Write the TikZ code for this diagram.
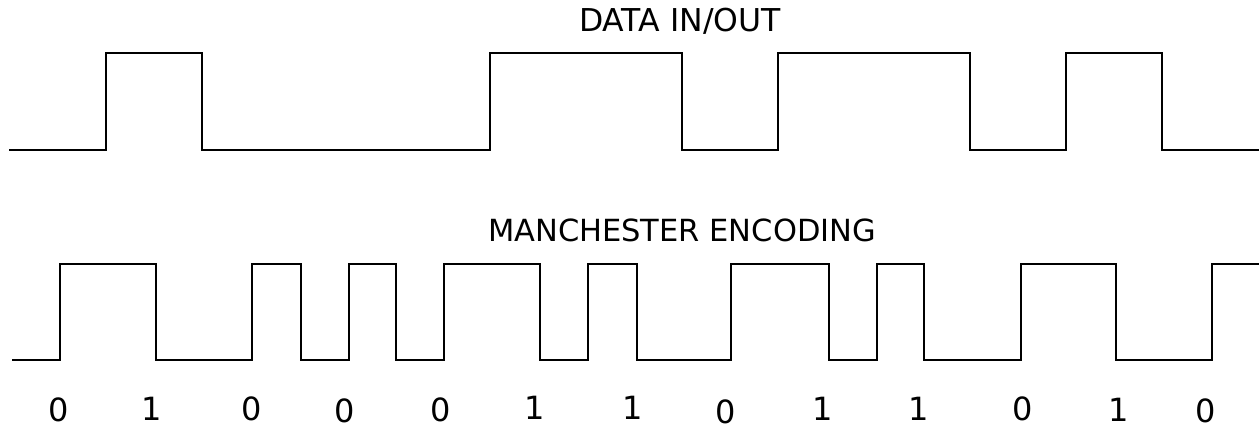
\documentclass[tikz,border=0pt]{standalone}
\usepackage{fontspec}
\setmainfont{DejaVu Sans}
\begin{document}
\begin{tikzpicture}[x=1pt,y=-1pt,
  wave/.style={line width=2.2pt,line join=miter,black},
  title/.style={inner sep=0pt,anchor=center,font=\fontsize{30.5}{31}\selectfont},
  bit/.style={inner sep=0pt,anchor=center,font=\fontsize{32}{32}\selectfont}]
\useasboundingbox (0,0) rectangle (1259,428);
% titles
\node[title,font=\fontsize{31.5}{32}\selectfont] (t1) at (680,21.5) {DATA IN/OUT};
\node[title] (t2) at (682,230.5) {MANCHESTER ENCODING};
% data waveform
\draw[wave] (9,150) -- (106,150) -- (106,53) -- (202,53) -- (202,150) -- (490,150)
  -- (490,53) -- (682,53) -- (682,150) -- (778,150) -- (778,53) -- (970,53)
  -- (970,150) -- (1066,150) -- (1066,53) -- (1162,53) -- (1162,150) -- (1259,150);
% manchester waveform
\draw[wave] (12,360) -- (60,360) -- (60,264) -- (156,264) -- (156,360) -- (252,360)
  -- (252,264) -- (301,264) -- (301,360) -- (349,360) -- (349,264) -- (396,264)
  -- (396,360) -- (444,360) -- (444,264) -- (540,264) -- (540,360) -- (588,360)
  -- (588,264) -- (637,264) -- (637,360) -- (731,360) -- (731,264) -- (829,264)
  -- (829,360) -- (877,360) -- (877,264) -- (924,264) -- (924,360) -- (1021,360)
  -- (1021,264) -- (1116,264) -- (1116,360) -- (1212,360) -- (1212,264) -- (1259,264);
% bit labels
\node[bit] (b1) at (59,410) {0};
\node[bit] (b2) at (152,408.5) {1};
\node[bit] (b3) at (252,409) {0};
\node[bit] (b4) at (345,411) {0};
\node[bit] (b5) at (441,410) {0};
\node[bit] (b6) at (535,407.5) {1};
\node[bit] (b7) at (633,407.5) {1};
\node[bit] (b8) at (726,411.5) {0};
\node[bit] (b9) at (823,408.5) {1};
\node[bit] (b10) at (919,408.5) {1};
\node[bit] (b11) at (1023,408.5) {0};
\node[bit] (b12) at (1119,410) {1};
\node[bit] (b13) at (1206,411) {0};
\end{tikzpicture}
\end{document}
